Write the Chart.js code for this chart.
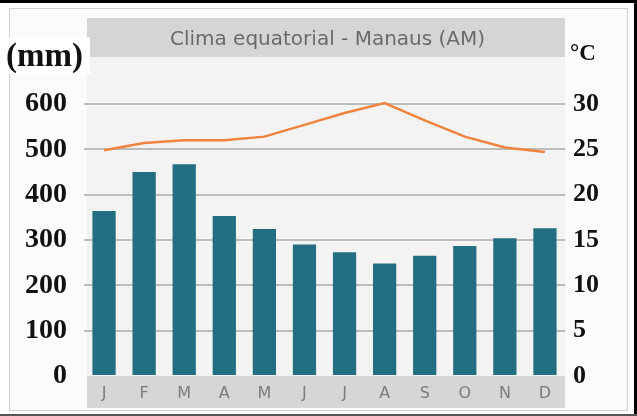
<!DOCTYPE html>
<html>
<head>
<meta charset="utf-8">
<script src="https://cdn.jsdelivr.net/npm/chart.js@4/dist/chart.umd.min.js"></script>
<style>
  html, body { margin: 0; padding: 0; background: #ffffff; }
  #wrap { width: 637px; height: 416px; position: relative; }
</style>
</head>
<body>
<div id="wrap"><canvas id="c" width="637" height="416"></canvas></div>
<script>
const months = ['J','F','M','A','M','J','J','A','S','O','N','D'];
const precipitation = [364, 450, 467, 353, 324, 290, 273, 248, 265, 287, 304, 326];
const temperature = [24.9, 25.7, 26.0, 26.0, 26.4, 27.7, 29.0, 30.1, 28.2, 26.4, 25.2, 24.7];
const precipTicks = [0, 100, 200, 300, 400, 500, 600];
const tempTicks = [0, 5, 10, 15, 20, 25, 30];
const titleText = 'Clima equatorial - Manaus (AM)';
const leftUnit = '(mm)';
const rightUnit = '°C';

const decor = {
  id: 'decor',
  beforeDraw(chart) {
    const c = chart.ctx, a = chart.chartArea;
    c.save();
    c.fillStyle = '#ffffff';
    c.fillRect(0, 0, 637, 416);
    // inner frame
    c.fillStyle = '#fbfbfb';
    c.fillRect(9, 8, 618, 402);
    c.strokeStyle = '#d0d0d0';
    c.lineWidth = 1;
    c.strokeRect(9.5, 8.5, 618, 402);
    // outer dark lines
    c.fillStyle = '#000000';
    c.fillRect(0, 0, 637, 3);
    c.fillRect(634, 0, 3, 416);
    c.fillStyle = '#555555';
    c.fillRect(0, 414, 637, 2);
    // plot background
    c.fillStyle = '#f3f3f3';
    c.fillRect(a.left + 3, 18, a.right - a.left - 3, a.bottom - 18);
    // title band
    c.fillStyle = '#d5d5d5';
    c.fillRect(a.left + 3, 18, a.right - a.left - 3, 39);
    // x-axis band
    c.fillStyle = '#d6d6d6';
    c.fillRect(a.left + 3, a.bottom, a.right - a.left - 3, 32);
    c.restore();
  },
  afterDraw(chart) {
    const c = chart.ctx, a = chart.chartArea;
    c.save();
    c.fillStyle = '#6a6a6a';
    c.font = '20px "DejaVu Sans"';
    c.textAlign = 'center';
    c.textBaseline = 'middle';
    c.fillText(titleText, (a.left + a.right) / 2 + 3, 40);
    // (mm) label with white box
    c.fillStyle = '#ffffff';
    c.fillRect(1, 37, 89, 37);
    c.fillStyle = '#111111';
    c.font = 'bold 33px "Liberation Serif"';
    c.textAlign = 'left';
    c.textBaseline = 'middle';
    c.fillText(leftUnit, 6, 57);
    // °C
    c.font = 'bold 23px "Liberation Serif"';
    c.fillText(rightUnit, 570, 54);
    c.restore();
  }
};

new Chart(document.getElementById('c'), {
  data: {
    labels: months,
    datasets: [
      {
        type: 'line',
        data: temperature,
        yAxisID: 'y1',
        borderColor: '#f0843f',
        borderWidth: 2.5,
        pointRadius: 0,
        tension: 0,
        clip: false,
        order: 0
      },
      {
        type: 'bar',
        data: precipitation,
        yAxisID: 'y',
        backgroundColor: '#236e80',
        barPercentage: 0.58,
        categoryPercentage: 1.0,
        order: 1
      }
    ]
  },
  options: {
    responsive: false,
    animation: false,
    events: [],
    layout: { padding: { top: 104, left: 0, right: 0, bottom: 0 } },
    plugins: { legend: { display: false }, title: { display: false }, tooltip: { enabled: false } },
    scales: {
      x: {
        afterFit(s) { s.height = 40; },
        grid: { display: false, drawTicks: false },
        border: { display: false },
        ticks: { color: '#7c7c7c', font: { family: 'DejaVu Sans', size: 16 }, padding: 8, maxRotation: 0 }
      },
      y: {
        position: 'left',
        min: 0, max: 600,
        afterFit(s) { s.width = 84; },
        afterBuildTicks(s) { s.ticks = precipTicks.map(v => ({ value: v })); },
        grid: {
          drawTicks: false,
          lineWidth: 2,
          color: (ctx) => (ctx.tick && ctx.tick.value === 0) ? 'rgba(0,0,0,0)' : '#bcbcbc'
        },
        border: { display: false },
        ticks: { color: '#111111', font: { family: 'Liberation Serif', size: 28, weight: 'bold' }, padding: 17 }
      },
      y1: {
        position: 'right',
        min: 0, max: 30,
        afterFit(s) { s.width = 72; },
        afterBuildTicks(s) { s.ticks = tempTicks.map(v => ({ value: v })); },
        grid: { display: false, drawTicks: false },
        border: { display: false },
        ticks: { color: '#111111', font: { family: 'Liberation Serif', size: 26, weight: 'bold' }, padding: 8 }
      }
    }
  },
  plugins: [decor]
});
</script>
</body>
</html>
